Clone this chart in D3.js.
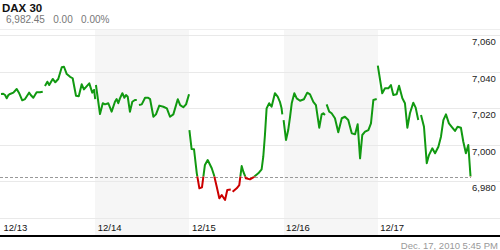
<!DOCTYPE html>
<html lang="en"><head><meta charset="utf-8">
<title>DAX 30</title>
<script src="https://cdn.jsdelivr.net/npm/d3@7"></script>
<style>
  body { margin:0; background:#fff; }
  svg { display:block; font-family:"Liberation Sans", Arial, sans-serif; }
</style>
</head>
<body>
<div id="chart"></div>
<script>
// trading days shown on the x axis
var days = ["12/13", "12/14", "12/15", "12/16", "12/17"];
var yTicks = [6960, 6980, 7000, 7020, 7040, 7060];
var yLabels = [6980, 7000, 7020, 7040, 7060];
var prevClose = 6982.45;
var sessionMin = 510; // 9:00 - 17:30

// [minutes since open, index value], null = gap in the feed
var d1213 = [[0,7027.7],[12,7027.8],[22,7027.1],[31,7025.3],[40,7027.1],[49,7027.7],[67,7028.4],[85,7030.4],[97,7028.4],[115,7024.2],[130,7024.9],[152,7028.4],[161,7027.1],[175,7025.6],[193,7028.6],[211,7028.6],[226,7028.9],
  null,
  [238,7032.1],[251,7034.4],[261,7032.6],[280,7035.9],[294,7034.1],[310,7035.9],[329,7042.3],[341,7042.6],[356,7038.6],[374,7037.1],[388,7036.3],[406,7026.7],[421,7026.4],[437,7033.0],[449,7030.2],[478,7033.5],[494,7028.4],[504,7029.9],[510,7024.9]];
var d1214 = [[4,7032.6],[26,7016.7],[41,7022.6],[53,7022.0],[71,7022.6],[89,7018.0],[107,7023.4],[116,7024.9],[125,7022.6],[134,7025.3],[147,7028.1],[158,7025.6],[167,7027.1],[176,7026.2],[188,7018.0],[201,7023.4],[215,7024.4],[225,7024.4],
  null,
  [237,7021.6],[252,7022.0],[270,7025.6],[287,7025.6],[297,7024.9],[315,7015.2],[329,7016.5],[347,7021.3],[369,7020.7],[388,7019.8],[405,7015.2],[423,7016.5],[447,7024.8],[460,7021.6],[477,7020.4],[492,7022.0],[508,7027.5]];
var d1215 = [[0,7007.9],[12,6997.5],[25,6997.4],[40,6984.2],[54,6976.0],[68,6976.5],[84,6988.8],[99,6991.5],[121,6987.0],[133,6983.3],[148,6976.9],[162,6970.5],[175,6972.3],[193,6969.6],[205,6975.1],[224,6975.4],
  null,
  [234,6974.1],[256,6976.0],[270,6977.8],[283,6988.2],[292,6985.1],[306,6981.5],[328,6980.9],[350,6982.3],[373,6984.2],[391,6986.4],[400,6993.3],[409,7005.2],[418,7019.8],[432,7022.6],[445,7020.7],[463,7028.1],[478,7026.2],[490,7023.4],[499,7019.8],[503,7016.5]];
var d1216 = [[0,7013.4],[13,7002.5],[25,7007.9],[35,7015.2],[44,7022.6],[58,7028.1],[71,7025.3],[89,7024.0],[110,7024.8],[128,7028.4],[143,7027.5],[161,7023.4],[175,7021.6],[193,7009.2],[206,7016.5],[215,7017.1],[224,7016.2],
  null,
  [233,7022.0],[247,7018.0],[260,7017.1],[278,7014.4],[296,7006.7],[315,7014.4],[332,7015.2],[350,7013.4],[369,7006.1],[387,7005.6],[401,7011.1],[414,6992.4],[426,7005.2],[441,7007.0],[459,7007.9],[473,7011.6],[486,7024.4],[504,7024.9]];
var d1217 = [[0,7043.2],[24,7028.1],[39,7030.8],[57,7030.8],[71,7032.6],[84,7027.1],[102,7027.5],[115,7032.2],[133,7025.3],[147,7022.6],[160,7009.2],[174,7017.1],[192,7022.9],[205,7020.2],[219,7013.4],
  null,
  [234,7016.2],[250,7009.7],[265,6989.7],[277,6994.2],[295,6997.9],[310,6995.2],[328,6998.8],[342,7004.3],[355,7013.4],[369,7016.5],[385,7011.6],[400,7009.7],[418,7007.4],[432,7009.7],[450,7009.2],[463,7001.5],[477,6995.2],[490,6999.7],[502,6982.45]];
var series = [d1213, d1214, d1215, d1216, d1217];

var W = 500, H = 250;
var svg = d3.select("#chart").append("svg").attr("width", W).attr("height", H);

var x = d3.scaleLinear().domain([0, days.length]).range([1, 472]);
var y = d3.scaleLinear().domain([6960, 7060]).range([217.5, 35]);

// header
svg.append("text").attr("x", 2).attr("y", 12)
  .attr("font-size", 11.5).attr("font-weight", "bold").attr("fill", "#111").text("DAX 30");
svg.append("text").attr("x", 6).attr("y", 22.5)
  .attr("font-size", 10).attr("fill", "#777")
  .attr("xml:space", "preserve").text("6,982.45   0.00   0.00%");
svg.append("line").attr("x1", 0).attr("x2", W).attr("y1", 29.5).attr("y2", 29.5)
  .attr("stroke", "#eeeeee");

// alternate day shading
svg.selectAll("rect.band").data([1, 3]).enter().append("rect")
  .attr("class", "band")
  .attr("x", function(d){ return Math.round(x(d)); })
  .attr("width", function(d){ return Math.round(x(d + 1)) - Math.round(x(d)); })
  .attr("y", 30).attr("height", 205)
  .attr("fill", "#f6f6f6");

// grid
svg.selectAll("line.grid").data(yTicks).enter().append("line")
  .attr("class", "grid")
  .attr("x1", 0).attr("x2", W)
  .attr("y1", function(d){ return Math.round(y(d)) + 0.5; })
  .attr("y2", function(d){ return Math.round(y(d)) + 0.5; })
  .attr("stroke", "#e9e9e9");

// y labels (hang below their grid line)
var yAxis = svg.append("g").attr("transform", "translate(472,0)")
  .call(d3.axisRight(y).tickValues(yLabels).tickSize(0).tickPadding(0).tickFormat(d3.format(",")));
yAxis.select(".domain").remove();
yAxis.selectAll("text").attr("font-size", 9.5).attr("font-family", null)
  .attr("fill", "#222").attr("dy", "1.0em");

// x labels
var xAxis = svg.append("g").attr("transform", "translate(0,218)")
  .call(d3.axisBottom(x).tickValues(d3.range(days.length)).tickSize(0).tickPadding(6)
    .tickFormat(function(i){ return days[i]; }));
xAxis.select(".domain").remove();
xAxis.selectAll("text").attr("font-size", 9.5).attr("font-family", null)
  .attr("fill", "#111").attr("text-anchor", "start").attr("dx", 2);

// previous close reference
svg.append("line")
  .attr("x1", 0).attr("x2", x(days.length) - 1)
  .attr("y1", Math.round(y(prevClose)) + 0.5).attr("y2", Math.round(y(prevClose)) + 0.5)
  .attr("stroke", "#999").attr("stroke-dasharray", "3,2");

// price line, green above prev close and red below
function dayLine(day) {
  return d3.line()
    .defined(function(d){ return d != null; })
    .x(function(d){ return x(day + d[0] / sessionMin); })
    .y(function(d){ return y(d[1]); });
}

var cy = y(prevClose);
var defs = svg.append("defs");
defs.append("clipPath").attr("id", "above").append("rect")
  .attr("x", 0).attr("y", 0).attr("width", W).attr("height", cy);
defs.append("clipPath").attr("id", "below").append("rect")
  .attr("x", 0).attr("y", cy).attr("width", W).attr("height", H - cy);

[["above", "#119911"], ["below", "#cc0000"]].forEach(function(c){
  var g = svg.append("g").attr("clip-path", "url(#" + c[0] + ")");
  series.forEach(function(s, i){
    g.append("path")
      .attr("d", dayLine(i)(s))
      .attr("fill", "none").attr("stroke", c[1])
      .attr("stroke-width", 2).attr("stroke-linejoin", "round");
  });
});

// bottom rule and timestamp
svg.append("line").attr("x1", 0).attr("x2", W).attr("y1", 236).attr("y2", 236)
  .attr("stroke", "#000").attr("stroke-width", 2);
svg.append("text").attr("x", 498).attr("y", 249).attr("text-anchor", "end")
  .attr("font-size", 9.5).attr("fill", "#999").text("Dec. 17, 2010 5:45 PM");
</script>
</body></html>
